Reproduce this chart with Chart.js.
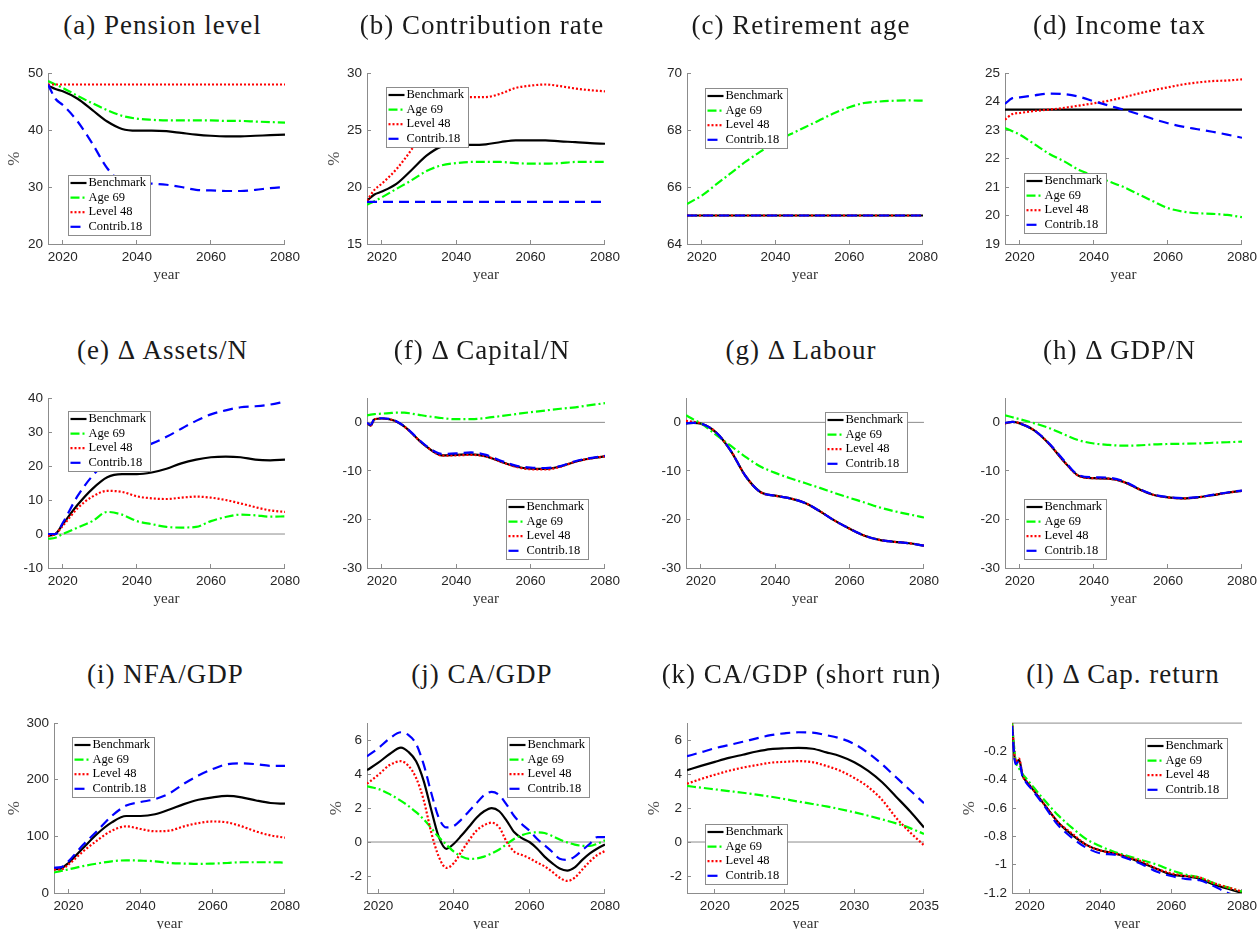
<!DOCTYPE html>
<html>
<head>
<meta charset="utf-8">
<script src="https://cdn.jsdelivr.net/npm/chart.js@4.4.1/dist/chart.umd.min.js"></script>
<style>
  html, body { margin: 0; padding: 0; background: #fff; overflow: hidden; }
  body { width: 1260px; height: 929px; position: relative; }
  canvas { position: absolute; }
  .ttl {
    position: absolute; white-space: nowrap; transform: translateX(-50%);
    font-family: "Liberation Serif", serif; font-size: 27px; line-height: 27px;
    letter-spacing: 1px; color: #1a1a1a;
  }
</style>
</head>
<body>
<script>
const series = ['Benchmark', 'Age 69', 'Level 48', 'Contrib.18']
const xTicksLong = [2020, 2040, 2060, 2080]
const xTicksShort = [2020, 2025, 2030, 2035]

const years = [2016, 2018, 2020, 2024, 2028, 2032, 2036, 2040, 2044, 2048, 2052, 2056, 2060, 2064, 2068, 2072, 2076, 2080]
const yearsF = [2016, 2017, 2018, 2020, 2022, 2024, 2026, 2028, 2030, 2032, 2034, 2036, 2040, 2044, 2048, 2052, 2056, 2060, 2064, 2068, 2072, 2076, 2080]
const yearsJ = [2017, 2020, 2023, 2026, 2028, 2030, 2032, 2034, 2036, 2038, 2040, 2042, 2044, 2046, 2048, 2050, 2052, 2054, 2056, 2058, 2060, 2062, 2064, 2066, 2068, 2070, 2072, 2074, 2076, 2078, 2080]
const yearsK = [2018, 2019, 2020, 2021, 2022, 2023, 2024, 2025, 2026, 2027, 2028, 2029, 2030, 2031, 2032, 2033, 2034, 2035]
const yearsL = [2015, 2016, 2017, 2018, 2019, 2020, 2024, 2028, 2032, 2036, 2040, 2044, 2048, 2052, 2056, 2060, 2064, 2068, 2072, 2076, 2080]

// (a) pension level
const benchA = [47.8, 47.2, 46.8, 45.5, 43.5, 41.5, 40.2, 39.9, 39.9, 39.8, 39.5, 39.2, 39.0, 38.9, 38.9, 39.0, 39.1, 39.2]
const ageA = [48.6, 48.0, 47.4, 46.0, 44.7, 43.5, 42.5, 42.0, 41.8, 41.7, 41.7, 41.7, 41.7, 41.6, 41.6, 41.5, 41.4, 41.3]
const levelA = [48, 48, 48, 48, 48, 48, 48, 48, 48, 48, 48, 48, 48, 48, 48, 48, 48, 48]
const contribA = [48.0, 45.5, 44.4, 41.5, 37.6, 33.3, 31.0, 30.7, 30.6, 30.4, 30.0, 29.5, 29.4, 29.3, 29.3, 29.5, 29.8, 30.0]

// (b) contribution rate
const benchB = [18.8, 19.35, 19.6, 20.3, 21.5, 22.75, 23.55, 23.7, 23.7, 23.75, 23.95, 24.1, 24.1, 24.1, 24.0, 23.95, 23.85, 23.8]
const ageB = [18.45, 18.75, 19.1, 19.85, 20.6, 21.4, 21.9, 22.1, 22.2, 22.2, 22.2, 22.1, 22.05, 22.05, 22.1, 22.2, 22.2, 22.2]
const levelB = [18.8, 19.75, 20.3, 21.6, 23.3, 25.3, 27.1, 27.85, 27.9, 27.9, 28.2, 28.7, 28.9, 29.0, 28.85, 28.65, 28.5, 28.4]
const contribB = [18.7, 18.7, 18.7, 18.7, 18.7, 18.7, 18.7, 18.7, 18.7, 18.7, 18.7, 18.7, 18.7, 18.7, 18.7, 18.7, 18.7, 18.7]

// (c) retirement age
const benchC = [65, 65, 65, 65, 65, 65, 65, 65, 65, 65, 65, 65, 65, 65, 65, 65, 65, 65]
const ageC = [65.4, 65.55, 65.7, 66.1, 66.5, 66.9, 67.25, 67.6, 67.85, 68.1, 68.35, 68.6, 68.8, 68.95, 69.0, 69.03, 69.04, 69.03]
const levelC = [65, 65, 65, 65, 65, 65, 65, 65, 65, 65, 65, 65, 65, 65, 65, 65, 65, 65]
const contribC = [65, 65, 65, 65, 65, 65, 65, 65, 65, 65, 65, 65, 65, 65, 65, 65, 65, 65]

// (d) income tax
const benchD = [23.72, 23.72, 23.72, 23.72, 23.72, 23.72, 23.72, 23.72, 23.72, 23.72, 23.72, 23.72, 23.72, 23.72, 23.72, 23.72, 23.72, 23.72]
const ageD = [23.07, 22.96, 22.84, 22.5, 22.16, 21.9, 21.6, 21.4, 21.2, 21.0, 20.75, 20.5, 20.26, 20.14, 20.08, 20.06, 20.02, 19.94]
const levelD = [23.37, 23.56, 23.6, 23.67, 23.72, 23.78, 23.86, 23.94, 24.03, 24.15, 24.28, 24.4, 24.5, 24.6, 24.67, 24.72, 24.74, 24.78]
const contribD = [23.92, 24.12, 24.15, 24.22, 24.28, 24.26, 24.17, 24.01, 23.86, 23.72, 23.56, 23.39, 23.24, 23.12, 23.03, 22.94, 22.84, 22.73]

// (e) assets per head
const benchE = [-0.5, 0, 2.9, 8.6, 13.3, 16.7, 17.6, 17.6, 18.1, 19.2, 20.8, 21.9, 22.6, 22.8, 22.6, 21.9, 21.7, 21.9]
const ageE = [-1.4, -1.1, 0, 1.9, 3.8, 6.5, 5.7, 3.8, 2.9, 2.1, 1.9, 2.1, 3.8, 5.0, 5.7, 5.5, 5.1, 5.2]
const levelE = [-0.5, 0, 2.4, 7.6, 11.0, 12.7, 12.4, 11.1, 10.5, 10.3, 10.7, 11.0, 10.7, 10.0, 9.0, 7.9, 6.95, 6.5]
const contribE = [0, 0, 3.3, 11.2, 17.1, 21.2, 23.5, 25.0, 26.6, 28.6, 31.0, 33.3, 35.2, 36.4, 37.3, 37.6, 38.1, 39.0]

// (f) capital per head
const benchF = [-0.2, -0.65, 0.65, 0.8, 0.65, 0.13, -0.85, -2.2, -3.7, -5.0, -6.1, -6.8, -6.7, -6.6, -7.0, -8.1, -9.1, -9.55, -9.6, -9.1, -8.1, -7.45, -7.0]
const ageF = [1.45, 1.6, 1.7, 1.8, 1.9, 2.0, 2.0, 1.8, 1.55, 1.3, 1.1, 0.9, 0.65, 0.65, 0.9, 1.3, 1.7, 2.1, 2.45, 2.8, 3.1, 3.55, 3.95]
const levelF = [-0.2, -0.65, 0.65, 0.8, 0.65, 0.13, -0.85, -2.2, -3.7, -5.0, -6.1, -6.85, -6.8, -6.7, -7.0, -8.1, -9.15, -9.65, -9.7, -9.15, -8.1, -7.45, -7.0]
const contribF = [-0.1, -0.5, 0.7, 0.85, 0.7, 0.2, -0.8, -2.1, -3.6, -4.9, -5.9, -6.5, -6.4, -6.2, -6.7, -7.9, -8.9, -9.3, -9.4, -9.0, -8.0, -7.35, -6.9]

// (g) labour
const benchG = [-0.2, -0.1, -0.25, -2.0, -5.8, -11.05, -14.35, -15.1, -15.65, -16.6, -18.3, -20.25, -21.9, -23.35, -24.2, -24.6, -24.9, -25.4]
const ageG = [1.45, 0.6, -0.2, -2.5, -4.8, -7.1, -9.1, -10.4, -11.5, -12.5, -13.5, -14.55, -15.55, -16.5, -17.5, -18.3, -18.95, -19.6]
const levelG = [0.3, 0.1, -0.2, -2.0, -5.8, -11.05, -14.35, -15.1, -15.65, -16.6, -18.3, -20.25, -21.9, -23.35, -24.2, -24.6, -24.9, -25.4]
const contribG = [-0.2, -0.1, -0.25, -2.0, -5.8, -11.05, -14.35, -15.1, -15.65, -16.6, -18.3, -20.25, -21.9, -23.35, -24.2, -24.6, -24.9, -25.4]

// (h) GDP per head
const benchH = [-0.2, 0.1, -0.2, -1.7, -4.5, -8.1, -11.05, -11.5, -11.6, -12.25, -13.7, -14.9, -15.45, -15.65, -15.45, -15.0, -14.5, -14.1]
const ageH = [1.45, 1.05, 0.65, -0.2, -1.2, -2.5, -3.7, -4.35, -4.65, -4.8, -4.75, -4.55, -4.45, -4.4, -4.35, -4.2, -4.1, -3.95]
const levelH = [-0.2, 0.1, -0.2, -1.7, -4.5, -8.1, -11.05, -11.5, -11.6, -12.25, -13.7, -14.9, -15.45, -15.65, -15.45, -15.0, -14.5, -14.1]
const contribH = [-0.1, 0.1, -0.2, -1.7, -4.4, -7.9, -10.9, -11.3, -11.4, -12.1, -13.6, -14.85, -15.4, -15.6, -15.4, -14.95, -14.45, -14.05]

// (i) net foreign assets
const benchI = [41.7, 43.4, 53, 79, 104.6, 124.6, 136, 136, 139, 147.4, 157, 164.6, 169, 171.4, 169, 163.4, 158.9, 157.7]
const ageI = [36, 39, 41.7, 47.4, 52, 56, 57.7, 57.1, 56, 53, 52, 51.4, 52, 53, 54.3, 54.3, 54.3, 53.7]
const levelI = [41.7, 41.7, 50.3, 73, 93, 110, 117.7, 113, 109, 110, 117.7, 123.4, 126.3, 124.6, 117.7, 108.6, 101.7, 97.7]
const contribI = [44.6, 45.7, 56, 84.6, 110, 136, 154.3, 160.6, 165.7, 176, 193, 207.4, 218.9, 227.4, 229, 227.4, 224.6, 224.6]

// (j) current account
const benchJ = [4.23, 4.67, 5.18, 5.56, 5.3, 4.75, 3.6, 1.9, 0.3, -0.4, -0.1, 0.38, 0.9, 1.43, 1.81, 2.0, 1.81, 1.24, 0.57, 0.23, 0, -0.38, -0.86, -1.24, -1.56, -1.68, -1.49, -1.05, -0.67, -0.38, -0.15]
const ageJ = [3.28, 3.12, 2.82, 2.42, 2.12, 1.76, 1.34, 0.82, 0.29, -0.15, -0.57, -0.85, -0.99, -0.97, -0.86, -0.67, -0.44, -0.12, 0.19, 0.4, 0.53, 0.57, 0.53, 0.36, 0.15, -0.02, -0.15, -0.22, -0.23, -0.1, 0.1]
const levelJ = [3.43, 3.96, 4.53, 4.76, 4.48, 3.77, 2.48, 0.57, -0.86, -1.52, -1.24, -0.57, 0.1, 0.67, 0.99, 1.14, 0.86, 0, -0.57, -0.76, -0.95, -1.2, -1.43, -1.75, -2.1, -2.29, -2.1, -1.62, -1.14, -0.76, -0.53]
const contribJ = [5.05, 5.52, 6.1, 6.46, 6.29, 5.77, 4.57, 2.9, 1.43, 0.86, 0.95, 1.33, 1.81, 2.29, 2.76, 2.95, 2.76, 2.19, 1.52, 1.05, 0.67, 0.19, -0.19, -0.57, -0.99, -1.05, -0.86, -0.48, -0.1, 0.29, 0.29]

// (k) current account, first years only
const benchK = [4.23, 4.48, 4.72, 4.95, 5.14, 5.33, 5.47, 5.52, 5.54, 5.49, 5.28, 5.05, 4.7, 4.19, 3.52, 2.67, 1.81, 0.86]
const ageK = [3.3, 3.2, 3.1, 3.0, 2.9, 2.79, 2.67, 2.53, 2.38, 2.24, 2.1, 1.93, 1.75, 1.55, 1.33, 1.1, 0.82, 0.48]
const levelK = [3.43, 3.71, 3.96, 4.19, 4.38, 4.53, 4.67, 4.72, 4.76, 4.7, 4.48, 4.19, 3.77, 3.24, 2.48, 1.43, 0.57, -0.19]
const contribK = [5.05, 5.28, 5.52, 5.71, 5.9, 6.1, 6.29, 6.4, 6.46, 6.44, 6.29, 6.1, 5.77, 5.24, 4.57, 3.81, 3.05, 2.29]

// (l) return on capital
const benchL = [0, -0.28, -0.26, -0.37, -0.41, -0.44, -0.57, -0.7, -0.79, -0.86, -0.9, -0.92, -0.95, -0.99, -1.03, -1.07, -1.08, -1.1, -1.14, -1.17, -1.2]
const ageL = [0, -0.26, -0.32, -0.36, -0.39, -0.42, -0.54, -0.65, -0.74, -0.82, -0.87, -0.91, -0.94, -0.97, -1.0, -1.04, -1.07, -1.09, -1.13, -1.16, -1.19]
const levelL = [0.01, -0.27, -0.25, -0.37, -0.41, -0.44, -0.57, -0.7, -0.78, -0.86, -0.9, -0.92, -0.95, -0.98, -1.03, -1.06, -1.08, -1.09, -1.13, -1.16, -1.19]
const contribL = [-0.02, -0.29, -0.27, -0.38, -0.42, -0.45, -0.58, -0.72, -0.81, -0.88, -0.92, -0.93, -0.96, -1.0, -1.05, -1.08, -1.1, -1.11, -1.15, -1.2, -1.23]

const lineStyles = [
    { color: '#000000', dash: [], width: 2.2 },
    { color: '#00ff00', dash: [9, 3, 2, 3], width: 2.2 },
    { color: '#ff0000', dash: [2, 2], width: 2.2 },
    { color: '#0000ff', dash: [10, 6], width: 2.2 }
]
const axisColor = '#8c8c8c'

// plot box: [left, top, right, bottom] in page pixels; legend offset from plot corner
const panels = [
    { title: '(a) Pension level', box: [48, 68, 287, 244], yrs: years, vals: [benchA, ageA, levelA, contribA], xr: [2016, 2080], yr: [20, 50], xt: xTicksLong, yt: [20, 30, 40, 50], pct: 33, leg: [20, 102] },
    { title: '(b) Contribution rate', box: [367, 68, 607, 244], yrs: years, vals: [benchB, ageB, levelB, contribB], xr: [2016, 2080], yr: [15, 30], xt: xTicksLong, yt: [15, 20, 25, 30], pct: 32, leg: [19, 14] },
    { title: '(c) Retirement age', box: [687, 68, 925, 244], yrs: years, vals: [benchC, ageC, levelC, contribC], xr: [2016, 2080], yr: [64, 70], xt: xTicksLong, yt: [64, 66, 68, 70], leg: [18, 15] },
    { title: '(d) Income tax', box: [1005, 68, 1244, 244], yrs: years, vals: [benchD, ageD, levelD, contribD], xr: [2016, 2080], yr: [19, 25], xt: xTicksLong, yt: [19, 20, 21, 22, 23, 24, 25], leg: [19, 100] },
    { title: '(e) Δ Assets/N', box: [48, 393, 287, 568], yrs: years, vals: [benchE, ageE, levelE, contribE], xr: [2016, 2080], yr: [-10, 40], xt: xTicksLong, yt: [-10, 0, 10, 20, 30, 40], zero: true, leg: [20, 13] },
    { title: '(f) Δ Capital/N', box: [367, 393, 607, 568], yrs: yearsF, vals: [benchF, ageF, levelF, contribF], xr: [2016, 2080], yr: [-30, 5], xt: xTicksLong, yt: [-30, -20, -10, 0], zero: true, leg: [139, 101] },
    { title: '(g) Δ Labour', box: [686, 393, 926, 568], yrs: years, vals: [benchG, ageG, levelG, contribG], xr: [2016, 2080], yr: [-30, 5], xt: xTicksLong, yt: [-30, -20, -10, 0], zero: true, leg: [139, 14] },
    { title: '(h) Δ GDP/N', box: [1005, 393, 1244, 568], yrs: years, vals: [benchH, ageH, levelH, contribH], xr: [2016, 2080], yr: [-30, 5], xt: xTicksLong, yt: [-30, -20, -10, 0], zero: true, leg: [19, 101] },
    { title: '(i) NFA/GDP', box: [54, 718, 287, 893], yrs: years, vals: [benchI, ageI, levelI, contribI], xr: [2016, 2080], yr: [0, 300], xt: xTicksLong, yt: [0, 100, 200, 300], pct: 39, leg: [18, 14] },
    { title: '(j) CA/GDP', box: [367, 718, 607, 893], yrs: yearsJ, vals: [benchJ, ageJ, levelJ, contribJ], xr: [2017, 2080], yr: [-3, 7], xt: xTicksLong, yt: [-2, 0, 2, 4, 6], zero: true, pct: 30, leg: [140, 14] },
    { title: '(k) CA/GDP (short run)', box: [687, 718, 926, 893], yrs: yearsK, vals: [benchK, ageK, levelK, contribK], xr: [2018, 2035], yr: [-3, 7], xt: xTicksShort, yt: [-2, 0, 2, 4, 6], zero: true, pct: 32, leg: [18, 101] },
    { title: '(l) Δ Cap. return', box: [1012, 718, 1244, 893], yrs: yearsL, vals: [benchL, ageL, levelL, contribL], xr: [2015, 2080], yr: [-1.2, 0], xt: xTicksLong, yt: [-1.2, -1, -0.8, -0.6, -0.4, -0.2], zero: true, pct: 42, leg: [133, 15] }
]
const titleBaselines = { 68: 34, 393: 359, 718: 683 }

// boxed legend drawn inside the plot, like the matlab one
const boxLegend = {
    id: 'boxLegend',
    afterDatasetsDraw(chart, args, opts) {
        const { ctx, chartArea } = chart
        const x0 = Math.round(chartArea.left + opts.at[0]) + 0.5
        const y0 = Math.round(chartArea.top + opts.at[1]) + 0.5
        ctx.save()
        ctx.fillStyle = '#ffffff'
        ctx.fillRect(x0, y0, 82, 60)
        ctx.strokeStyle = axisColor
        ctx.lineWidth = 1
        ctx.strokeRect(x0, y0, 82, 60)
        ctx.font = '12.5px "Liberation Serif"'
        ctx.textBaseline = 'middle'
        chart.data.datasets.filter(ds => ds.label).forEach((ds, i) => {
            const y = y0 + 7.5 + i * 14.6
            ctx.strokeStyle = ds.borderColor
            ctx.lineWidth = ds.borderWidth
            ctx.setLineDash(ds.borderDash)
            ctx.beginPath()
            ctx.moveTo(x0 + 2, y)
            ctx.lineTo(x0 + 18, y)
            ctx.stroke()
            ctx.setLineDash([])
            ctx.fillStyle = '#000000'
            ctx.fillText(ds.label, x0 + 20, y)
        })
        ctx.restore()
    }
}

const axisW = 60, axisH = 40, padT = 12, padR = 22

function drawPanel(p) {
    const [l, t, r, b] = p.box
    const cv = document.createElement('canvas')
    cv.width = r - l + axisW + padR
    cv.height = b - t + padT + axisH
    cv.style.left = (l - axisW) + 'px'
    cv.style.top = (t - padT) + 'px'
    document.body.appendChild(cv)

    const ttl = document.createElement('div')
    ttl.className = 'ttl'
    ttl.textContent = p.title
    ttl.style.left = ((l + r) / 2 - 5) + 'px'
    ttl.style.top = (titleBaselines[t] - 22) + 'px'
    document.body.appendChild(ttl)

    const datasets = series.map((name, i) => ({
        label: name,
        data: p.yrs.map((yr, k) => ({ x: yr, y: p.vals[i][k] })),
        borderColor: lineStyles[i].color,
        borderDash: lineStyles[i].dash,
        borderWidth: lineStyles[i].width,
        pointRadius: 0,
        fill: false,
        cubicInterpolationMode: 'monotone',
        order: 4 - i
    }))
    if (p.zero) {
        datasets.push({
            label: '',
            data: [{ x: p.xr[0], y: 0 }, { x: p.xr[1], y: 0 }],
            borderColor: axisColor,
            borderDash: [],
            borderWidth: 1,
            pointRadius: 0,
            clip: 2,
            order: 10
        })
    }

    const tickFont = { family: '"Liberation Sans", Arial, sans-serif', size: 13.5 }
    const fmt = v => String(+v.toFixed(2))

    new Chart(cv, {
        type: 'line',
        data: { datasets },
        plugins: [boxLegend],
        options: {
            responsive: false,
            animation: false,
            devicePixelRatio: 1,
            events: [],
            layout: { padding: { top: padT, right: padR, left: 0, bottom: 0 } },
            plugins: {
                legend: { display: false },
                tooltip: { enabled: false },
                boxLegend: { at: p.leg }
            },
            scales: {
                x: {
                    type: 'linear',
                    min: p.xr[0],
                    max: p.xr[1],
                    afterBuildTicks: s => { s.ticks = p.xt.map(v => ({ value: v })) },
                    afterFit: s => { s.height = axisH },
                    grid: { drawOnChartArea: false, drawTicks: true, tickLength: -4, color: axisColor },
                    border: { color: axisColor, width: 1 },
                    ticks: { font: tickFont, color: '#262626', padding: 9, maxRotation: 0, autoSkip: false, callback: fmt },
                    title: { display: true, text: 'year', font: { family: '"Liberation Serif", serif', size: 15 }, color: '#333333', padding: { top: 0, bottom: 0 } }
                },
                y: {
                    type: 'linear',
                    min: p.yr[0],
                    max: p.yr[1],
                    afterBuildTicks: s => { s.ticks = p.yt.map(v => ({ value: v })) },
                    afterFit: s => { s.width = axisW },
                    grid: { drawOnChartArea: false, drawTicks: true, tickLength: -4, color: axisColor },
                    border: { color: axisColor, width: 1 },
                    ticks: { font: tickFont, color: '#262626', padding: 9, callback: fmt },
                    title: {
                        display: !!p.pct, text: '%',
                        font: { family: '"Liberation Serif", serif', size: 17 }, color: '#555555',
                        padding: { top: axisW - (p.pct || 0) - 10.2, bottom: 0 }
                    }
                }
            }
        }
    })
}

panels.forEach(drawPanel)
</script>
</body>
</html>
